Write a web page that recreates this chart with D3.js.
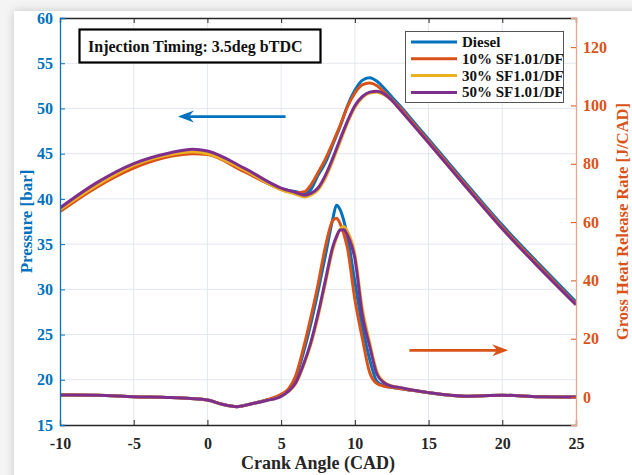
<!DOCTYPE html>
<html>
<head>
<meta charset="utf-8">
<script src="https://cdn.jsdelivr.net/npm/d3@7"></script>
<style>
    html, body { margin: 0; padding: 0; }
    body { width: 632px; height: 475px; overflow: hidden; background: #f4f4f4; position: relative; }
    #card { position: absolute; left: 14px; top: 11px; width: 700px; height: 520px; background: #fff;
            box-shadow: 0 0 9px rgba(0,0,0,0.18); }
    svg { position: absolute; left: 0; top: 0; }
    text { font-family: "Liberation Serif", "Times New Roman", serif; font-weight: bold; }
</style>
</head>
<body>
<div id="card"></div>
<svg id="chart" width="632" height="475"></svg>
<script>
// crank angle grids
var pressureCad = [-10, -7.5, -5, -2.5, -1, 0, 2.5, 5, 6, 6.6, 7, 7.5, 8, 8.5, 9, 9.5, 10, 10.5, 11, 11.5, 12, 12.5, 13, 14, 15, 17.5, 20, 22.5, 25];
var hrrCad = [-10, -7.5, -5, -2.5, 0, 1, 2, 3, 4, 5, 5.5, 6, 6.5, 7, 7.5, 8, 8.5, 8.75, 9, 9.25, 9.5, 10, 10.5, 11, 11.5, 12, 12.5, 13, 14, 15, 17.5, 20, 22.5, 25];

// pressure [bar]
var pDiesel = [38.7, 41.4, 43.5, 44.8, 45.1, 45.0, 43.1, 41.1, 40.8, 40.6, 41.0, 42.6, 44.0, 46.0, 48.0, 50.3, 52.0, 53.1, 53.4, 53.0, 52.2, 51.3, 50.4, 48.5, 46.6, 41.8, 37.1, 32.8, 28.6];
var p10 = [38.6, 41.3, 43.4, 44.7, 45.0, 44.9, 43.0, 41.1, 40.7, 40.8, 41.5, 42.9, 44.4, 46.2, 48.1, 50.2, 51.7, 52.6, 52.8, 52.5, 51.8, 51.0, 50.2, 48.3, 46.4, 41.6, 36.9, 32.6, 28.4];
var p30 = [38.8, 41.5, 43.7, 44.9, 45.2, 45.0, 43.2, 41.0, 40.5, 40.2, 40.4, 41.0, 42.3, 44.2, 46.3, 48.4, 50.1, 51.2, 51.7, 51.8, 51.5, 50.9, 50.0, 48.1, 46.2, 41.4, 36.7, 32.4, 28.3];
var p50 = [39.0, 41.8, 43.9, 45.1, 45.5, 45.3, 43.4, 41.2, 40.7, 40.4, 40.6, 41.2, 42.6, 44.5, 46.6, 48.6, 50.3, 51.3, 51.8, 51.9, 51.6, 50.9, 50.0, 48.1, 46.2, 41.4, 36.7, 32.4, 28.3];

// gross heat release rate [J/CAD]
var hDiesel = [0.7, 0.6, 0.1, -0.2, -1.0, -2.5, -3.3, -2.3, -1.1, 0.6, 2.3, 6.8, 15, 24.8, 36.2, 48.5, 61, 65.8, 64.3, 60.5, 55, 39.5, 24.5, 13, 5.3, 3.8, 3.3, 2.9, 2.2, 1.5, 0.3, 0.6, 0.1, 0];
var h10 = [0.7, 0.6, 0.1, -0.2, -1.0, -2.5, -3.3, -2.3, -1.0, 0.9, 2.8, 7.5, 16.5, 27, 38.5, 51.5, 60.5, 61.3, 59.5, 56, 51, 33.5, 20.3, 8.5, 4.6, 3.7, 3.3, 2.9, 2.2, 1.5, 0.3, 0.6, 0.1, 0];
var h30 = [0.7, 0.6, 0.1, -0.2, -1.0, -2.5, -3.3, -2.3, -1.2, 0.3, 1.9, 4.7, 10.5, 17.8, 27.5, 39, 50.5, 54.5, 57.5, 58.4, 56.8, 49, 30.5, 18.8, 8.6, 5, 3.8, 3.3, 2.3, 1.5, 0.3, 0.6, 0.1, 0];
var h50 = [0.7, 0.6, 0.1, -0.2, -1.0, -2.5, -3.3, -2.3, -1.2, 0.2, 2.0, 5.0, 11, 18.5, 28.5, 40, 51.5, 55, 57.3, 57.4, 55.5, 47.5, 28.5, 17.5, 7.8, 4.8, 3.7, 3.3, 2.3, 1.5, 0.3, 0.6, 0.1, 0];

var seriesNames = ["Diesel", "10% SF1.01/DF", "30% SF1.01/DF", "50% SF1.01/DF"];
var colors = ["#0072BD", "#D95319", "#EDB120", "#7E2F8E"];
var pressures = [pDiesel, p10, p30, p50];
var hrrs = [hDiesel, h10, h30, h50];

var xTicks = [-10, -5, 0, 5, 10, 15, 20, 25];
var pTicks = [15, 20, 25, 30, 35, 40, 45, 50, 55, 60];
var hTicks = [0, 20, 40, 60, 80, 100, 120];

/*====================== scales ======================*/
var svg = d3.select("#chart"),
    plotL = 60, plotR = 576, plotT = 18, plotB = 425;

var x = d3.scaleLinear().domain([-10, 25]).range([plotL, plotR]);
var yP = d3.scaleLinear().domain([15, 60]).range([plotB, plotT]);
var yH = d3.scaleLinear().domain([-9.6, 130]).range([plotB, plotT]);

// grid
var grid = svg.append("g");
grid.selectAll(".gx").data(xTicks.slice(1, -1)).enter().append("line")
    .attr("x1", d => x(d)).attr("x2", d => x(d))
    .attr("y1", plotT).attr("y2", plotB)
    .attr("stroke", "#e2e7ee").attr("stroke-width", 1);
grid.selectAll(".gy").data(pTicks.slice(1, -1)).enter().append("line")
    .attr("x1", plotL).attr("x2", plotR)
    .attr("y1", d => yP(d)).attr("y2", d => yP(d))
    .attr("stroke", "#e2e7ee").attr("stroke-width", 1);

// lines
svg.append("clipPath").attr("id", "clip").append("rect")
    .attr("x", plotL).attr("y", plotT).attr("width", plotR - plotL).attr("height", plotB - plotT);

var plot = svg.append("g").attr("clip-path", "url(#clip)");

function drawSeries(cad, vals, yScale, color) {
    var line = d3.line()
        .x(d => x(d[0]))
        .y(d => yScale(d[1]))
        .curve(d3.curveMonotoneX);
    plot.append("path")
        .datum(d3.zip(cad, vals))
        .attr("d", line)
        .attr("fill", "none")
        .attr("stroke", color)
        .attr("stroke-width", 3)
        .attr("stroke-linejoin", "round");
}

for (var i = 0; i < 4; i++) {
    drawSeries(pressureCad, pressures[i], yP, colors[i]);
    drawSeries(hrrCad, hrrs[i], yH, colors[i]);
}

/*====================== axes ======================*/
var fontSize = "16px";

var gx = svg.append("g").attr("transform", "translate(0," + plotB + ")")
    .call(d3.axisBottom(x).tickValues(xTicks).tickSize(-5).tickPadding(13).tickFormat(d => String(d)));
var gxTop = svg.append("g").attr("transform", "translate(0," + plotT + ")")
    .call(d3.axisTop(x).tickValues(xTicks).tickSize(-5).tickFormat(""));
[gx, gxTop].forEach(function (g) {
    g.select(".domain").attr("stroke", "#262626");
    g.selectAll(".tick line").attr("stroke", "#262626");
    g.selectAll("text").attr("fill", "#262626").style("font-size", fontSize);
});

var gl = svg.append("g").attr("transform", "translate(" + plotL + ",0)")
    .call(d3.axisLeft(yP).tickValues(pTicks).tickSize(-5).tickPadding(7));
gl.select(".domain").attr("stroke", "#0072BD");
gl.selectAll(".tick line").attr("stroke", "#0072BD");
gl.selectAll("text").attr("fill", "#0072BD").style("font-size", fontSize);

var gr = svg.append("g").attr("transform", "translate(" + plotR + ",0)")
    .call(d3.axisRight(yH).tickValues(hTicks).tickSize(-5).tickPadding(7));
gr.select(".domain").attr("stroke", "#e8a68b");
gr.selectAll(".tick line").attr("stroke", "#D95319");
gr.selectAll("text").attr("fill", "#D95319").style("font-size", fontSize);

svg.selectAll(".domain").attr("stroke-width", 1.3);

// axis titles
svg.append("text").attr("x", (plotL + plotR) / 2).attr("y", 469)
    .attr("text-anchor", "middle").style("font-size", "18px").attr("fill", "#262626")
    .text("Crank Angle (CAD)");
svg.append("text").attr("transform", "translate(32," + (plotT + plotB) / 2 + ") rotate(-90)")
    .attr("text-anchor", "middle").style("font-size", "17px").attr("fill", "#0072BD")
    .text("Pressure [bar]");
svg.append("text").attr("transform", "translate(628," + (plotT + plotB) / 2 + ") rotate(-90)")
    .attr("text-anchor", "middle").style("font-size", "16.5px").attr("fill", "#D95319")
    .text("Gross Heat Release Rate [J/CAD]");

/*====================== annotations ======================*/
svg.append("rect").attr("x", 79.5).attr("y", 29.5).attr("width", 241).attr("height", 33)
    .attr("fill", "#fff").attr("stroke", "#000").attr("stroke-width", 2.2);
svg.append("text").attr("x", 88).attr("y", 52).style("font-size", "16px").attr("fill", "#111")
    .text("Injection Timing: 3.5deg bTDC");

function arrow(x1, x2, y, color) {
    var dir = x2 > x1 ? 1 : -1;
    svg.append("line").attr("x1", x1).attr("x2", x2 - dir * 8).attr("y1", y).attr("y2", y)
        .attr("stroke", color).attr("stroke-width", 2.6);
    svg.append("path")
        .attr("d", "M" + x2 + "," + y + " L" + (x2 - dir * 16) + "," + (y - 6) +
            " L" + (x2 - dir * 11) + "," + y + " L" + (x2 - dir * 16) + "," + (y + 6) + " Z")
        .attr("fill", color);
}
arrow(x(5.3), x(-2.0), yP(49.1), "#0072BD");
arrow(x(13.7), x(20.4), yH(16), "#D95319");

// legend
var legend = svg.append("g").attr("transform", "translate(405,31)");
legend.append("rect").attr("x", 0.5).attr("y", 0.5).attr("width", 158).attr("height", 71)
    .attr("fill", "#fff").attr("stroke", "#555").attr("stroke-width", 1);
seriesNames.forEach(function (name, i) {
    var yy = 11 + i * 16.8;
    legend.append("line").attr("x1", 6).attr("x2", 52).attr("y1", yy).attr("y2", yy)
        .attr("stroke", colors[i]).attr("stroke-width", 3);
    legend.append("text").attr("x", 57).attr("y", yy + 5).style("font-size", "15px")
        .attr("fill", "#111").text(name);
});
</script>
</body>
</html>
